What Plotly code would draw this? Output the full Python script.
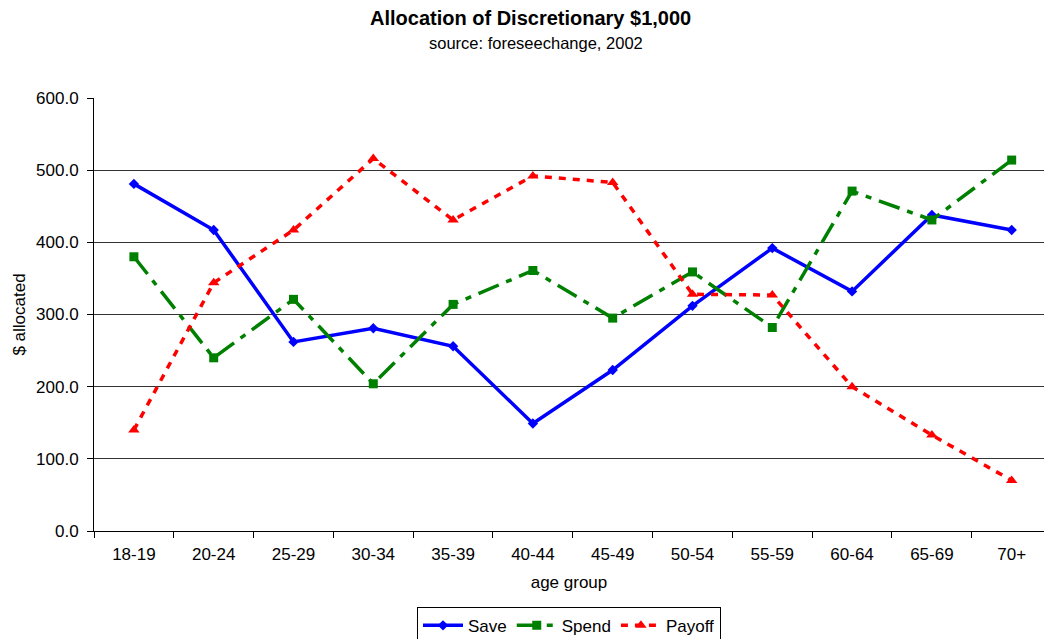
import plotly.graph_objects as go

categories = ["18-19", "20-24", "25-29", "30-34", "35-39", "40-44", "45-49",
              "50-54", "55-59", "60-64", "65-69", "70+"]
save = [481, 417, 262, 281, 256, 149, 223, 312, 392, 332, 438, 417]
spend = [380, 240, 321, 204, 314, 361, 295, 359, 282, 471, 431, 514]
payoff = [140, 344, 417, 516, 431, 492, 483, 328, 327, 200, 133, 70]

FONT = "Liberation Sans, Arial, sans-serif"

fig = go.Figure()
fig.add_trace(go.Scatter(x=categories, y=save, name="Save", mode="lines+markers",
                         line=dict(color="#0000FF", width=3.5),
                         marker=dict(symbol="diamond", size=8, color="#0000FF")))
fig.add_trace(go.Scatter(x=categories, y=spend, name="Spend", mode="lines+markers",
                         line=dict(color="#008000", width=3.5, dash="22px,8px,6px,8px"),
                         marker=dict(symbol="square", size=9, color="#008000")))
fig.add_trace(go.Scatter(x=categories, y=payoff, name="Payoff", mode="lines+markers",
                         line=dict(color="#FF0000", width=3.5, dash="7px,7px"),
                         marker=dict(symbol="triangle-up", size=10, color="#FF0000")))

fig.update_layout(
    width=1044, height=639,
    margin=dict(l=94, r=0, t=98, b=108, autoexpand=False),
    paper_bgcolor="white", plot_bgcolor="white",
    font=dict(family=FONT, size=17, color="black"),
    showlegend=True,
    legend=dict(orientation="h", x=0.5, xanchor="center", y=-0.175, yanchor="top",
                bordercolor="black", borderwidth=1, bgcolor="white",
                font=dict(family=FONT, size=17, color="black"),
                itemwidth=40, tracegroupgap=0),
    annotations=[
        dict(text="<b>Allocation of Discretionary $1,000</b>", xref="paper", yref="paper",
             x=(530 - 94) / 950, y=1 + (98 - 18) / 433, xanchor="center", yanchor="middle",
             showarrow=False, font=dict(family=FONT, size=20, color="black")),
        dict(text="source: foreseechange, 2002", xref="paper", yref="paper",
             x=(536 - 94) / 950, y=1 + (98 - 43) / 433, xanchor="center", yanchor="middle",
             showarrow=False, font=dict(family=FONT, size=16.5, color="black")),
    ],
)
fig.update_xaxes(type="category", range=[-0.5, 11.405], tickson="boundaries",
                 ticks="outside", ticklen=6, tickcolor="black", ticklabelstandoff=8,
                 showline=True, linecolor="black", linewidth=1, mirror=False,
                 showgrid=False, zeroline=False,
                 title=dict(text="age group", font=dict(family=FONT, size=17), standoff=12),
                 tickfont=dict(family=FONT, size=17))
fig.update_yaxes(range=[0, 600], dtick=100, tickformat=".1f",
                 ticks="outside", ticklen=6, tickcolor="black", ticklabelstandoff=5,
                 showline=True, linecolor="black", linewidth=1,
                 showgrid=True, gridcolor="#333333", gridwidth=1, zeroline=False,
                 title=dict(text="$ allocated", font=dict(family=FONT, size=17), standoff=6),
                 tickfont=dict(family=FONT, size=17))

fig.write_html("out.html")
